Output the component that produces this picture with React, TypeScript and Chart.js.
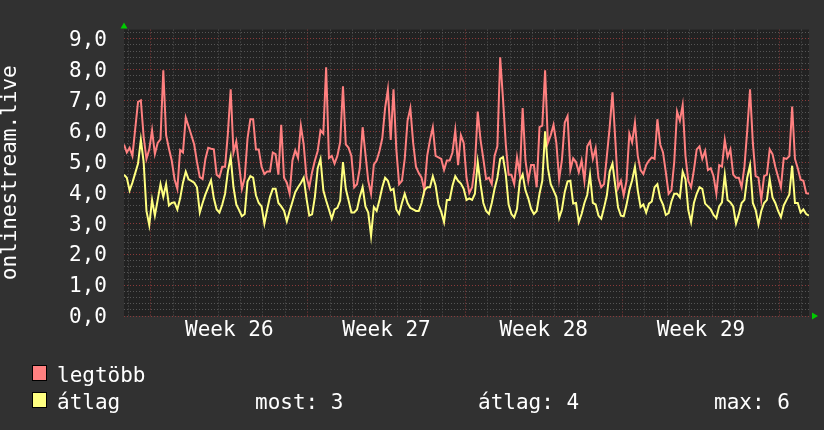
import React, { useEffect, useRef } from 'react';
import { Chart, registerables } from 'chart.js';

Chart.register(...registerables);

// ---- data (3-hour samples, starting at the left edge of the graph) ----
const stepHours = 3;
const axisMaxHours = 732;
const firstDayLineHour = 4.5;
const firstWeekStartHour = 28.5;

const weekLabels = ['Week 26', 'Week 27', 'Week 28', 'Week 29'];
const yTickLabels = ['0,0', '1,0', '2,0', '3,0', '4,0', '5,0', '6,0', '7,0', '8,0', '9,0'];
const seriesNames = ['legtöbb', 'átlag'];
const statLabels = ['most: 3', 'átlag: 4', 'max: 6'];

const maxValues = [
  5.57, 5.31, 5.46, 5.2, 6.08, 6.95, 7.0, 5.82, 5.1, 5.41,
  6.03, 5.26, 5.62, 5.74, 7.98, 5.87, 5.44, 5.05, 4.44, 4.13,
  5.39, 5.31, 6.44, 6.16, 5.87, 5.57, 5.0, 4.51, 4.45, 5.1,
  5.46, 5.43, 5.41, 4.59, 4.51, 4.85, 4.85, 5.92, 7.36, 5.31,
  5.67, 4.9, 4.13, 4.49, 5.77, 6.39, 6.39, 5.41, 5.41, 4.85,
  4.61, 4.69, 4.69, 5.31, 5.26, 4.59, 6.21, 4.49, 4.33, 3.97,
  5.05, 5.38, 5.13, 6.18, 5.57, 4.51, 4.18, 4.67, 5.05, 5.36,
  6.03, 5.92, 8.08, 5.13, 5.2, 4.95, 5.2, 5.64, 7.46, 5.57,
  5.46, 5.2, 4.18, 4.28, 4.8, 6.13, 5.26, 4.39, 3.97, 4.92,
  5.05, 5.36, 5.77, 6.75, 7.36, 5.72, 7.36, 5.41, 4.28, 4.39,
  5.1, 6.34, 6.75, 5.62, 4.85, 4.64, 4.49, 4.08, 5.2, 5.72,
  6.13, 5.2, 5.15, 5.1, 4.74, 5.05, 5.05, 5.31, 6.03, 4.9,
  5.87, 5.62, 4.49, 3.99, 4.18, 4.9, 6.64, 5.72, 5.1, 4.44,
  4.49, 4.28, 5.2, 5.51, 8.4, 7.05, 5.57, 4.59, 4.59, 4.28,
  5.15, 4.59, 6.75, 5.05, 4.39, 4.9, 4.9, 4.18, 6.13, 6.18,
  7.98, 5.62, 5.87, 6.21, 5.62, 4.44, 5.08, 6.28, 6.49, 4.74,
  5.12, 5.0, 4.67, 5.05, 4.39, 5.51, 5.67, 5.1, 5.45, 4.49,
  4.18, 4.28, 5.2, 6.13, 7.26, 5.72, 4.16, 4.39, 3.92, 4.39,
  5.92, 5.64, 6.28, 5.2, 4.74, 4.61, 4.9, 5.05, 5.15, 5.1,
  6.39, 5.57, 5.31, 4.67, 3.97, 4.08, 5.0, 6.64, 6.34, 6.85,
  5.2, 4.39, 4.18, 4.74, 5.41, 5.51, 5.1, 5.36, 4.74, 4.8,
  4.54, 3.97, 4.9, 4.85, 5.72, 5.16, 5.41, 4.59, 4.49, 4.49,
  4.18, 4.85, 6.03, 7.36, 5.62, 4.54, 4.49, 3.77, 4.54, 4.59,
  5.41, 5.26, 4.85, 4.51, 4.18, 5.13, 5.1, 5.19, 6.8, 5.1,
  4.8, 4.43, 4.39, 3.99, 3.97,
];

const avgValues = [
  4.59, 4.49, 4.08, 4.33, 4.64, 4.95, 5.72, 5.0, 3.41, 2.95,
  3.77, 3.26, 3.77, 4.28, 3.87, 4.28, 3.59, 3.67, 3.69, 3.46,
  3.82, 4.33, 4.69, 4.44, 4.39, 4.33, 4.18, 3.36, 3.67, 3.95,
  4.18, 4.41, 3.82, 3.46, 3.36, 3.62, 3.97, 4.69, 5.16, 4.18,
  3.62, 3.44, 3.24, 3.31, 4.37, 4.54, 4.49, 3.92, 3.67, 3.56,
  3.0, 3.46, 3.87, 4.13, 4.13, 3.67, 3.56, 3.42, 3.07, 3.41,
  3.71, 4.02, 4.18, 4.32, 4.49, 3.82, 3.26, 3.3, 3.87, 4.8,
  5.1, 4.08, 3.75, 3.46, 3.16, 3.46, 3.51, 3.75, 5.0, 4.13,
  3.75, 3.36, 3.36, 3.46, 3.87, 4.18, 3.56, 3.36, 2.6, 3.54,
  3.41, 3.77, 4.18, 4.49, 4.39, 4.08, 4.13, 3.46, 3.31, 3.67,
  3.97, 3.67, 3.51, 3.46, 3.41, 3.41, 3.67, 4.08, 4.18, 4.18,
  4.54, 4.23, 3.62, 3.38, 3.05, 3.77, 3.77, 4.23, 4.54, 4.39,
  4.3, 4.13, 3.77, 3.82, 3.77, 3.97, 5.0, 4.28, 3.67, 3.41,
  3.31, 3.67, 4.13, 4.49, 5.1, 5.16, 4.59, 3.62, 3.31, 3.2,
  3.48, 4.39, 4.6, 4.08, 3.82, 3.48, 3.31, 3.41, 3.97, 4.39,
  6.0, 4.8, 4.28, 4.08, 3.87, 3.18, 3.46, 4.03, 4.37, 4.39,
  3.65, 3.67, 3.05, 3.31, 3.67, 3.93, 4.59, 3.67, 3.62, 3.26,
  3.16, 3.52, 3.92, 4.69, 4.95, 4.23, 3.52, 3.26, 3.24, 3.61,
  4.08, 4.41, 4.85, 4.08, 3.54, 3.62, 3.36, 3.65, 3.72, 4.18,
  4.28, 3.82, 3.62, 3.28, 3.34, 3.72, 3.97, 3.97, 3.85, 4.69,
  4.44, 3.44, 3.05, 3.67, 3.97, 4.18, 4.13, 3.65, 3.56, 3.46,
  3.28, 3.18, 3.56, 3.69, 4.59, 3.77, 3.69, 3.56, 3.0, 3.3,
  3.67, 3.77, 4.49, 4.9, 3.67, 3.44, 2.97, 3.41, 3.67, 3.77,
  4.45, 3.85, 3.67, 3.41, 3.21, 3.59, 3.77, 3.95, 4.88, 3.67,
  3.67, 3.36, 3.46, 3.31, 3.26,
];

// ---- styles ----
const FONT = '"DejaVu Sans Mono", "Liberation Mono", monospace';
const OUTER_BG = '#313131';
const PLOT_BG = '#222222';
const MAX_COLOR = '#ff8080';
const AVG_COLOR = '#ffff80';
const MINOR_GRID = '#555555';
const MAJOR_GRID = '#8a3a3a';
const TEXT = '#ffffff';

const toPoints = (vals: number[]) => vals.map((v, i) => ({ x: i * stepHours, y: v }));

const dayTicks: number[] = [];
for (let h = firstDayLineHour; h <= axisMaxHours; h += 24) dayTicks.push(h);
const labelTicks = weekLabels.map((_, k) => firstWeekStartHour + 84 + 168 * k);
const labelAt = (v: number) => labelTicks.findIndex((t) => Math.abs(t - v) < 1e-6);
const isMajorDay = (v: number) => {
  const r = (((v - firstWeekStartHour) % 168) + 168) % 168;
  return r < 1e-6 || 168 - r < 1e-6;
};
const isInt = (v: number) => Math.abs(v - Math.round(v)) < 1e-6;

const backgroundPlugin = {
  id: 'rrdBackground',
  beforeDraw(chart: any) {
    const { ctx, chartArea } = chart;
    ctx.save();
    ctx.fillStyle = OUTER_BG;
    ctx.fillRect(0, 0, chart.width, chart.height);
    ctx.fillStyle = PLOT_BG;
    ctx.fillRect(chartArea.left, chartArea.top, chartArea.right - chartArea.left, chartArea.bottom - chartArea.top);
    ctx.restore();
  },
};

const decorPlugin = {
  id: 'rrdDecor',
  afterDraw(chart: any) {
    const { ctx, chartArea } = chart;
    ctx.save();
    // green axis arrows
    ctx.fillStyle = '#00cc00';
    ctx.beginPath();
    ctx.moveTo(chartArea.left - 3.5, chartArea.top - 1);
    ctx.lineTo(chartArea.left + 3.5, chartArea.top - 1);
    ctx.lineTo(chartArea.left, chartArea.top - 7);
    ctx.closePath();
    ctx.fill();
    ctx.beginPath();
    ctx.moveTo(chartArea.right + 3, chartArea.bottom - 3.5);
    ctx.lineTo(chartArea.right + 3, chartArea.bottom + 3.5);
    ctx.lineTo(chartArea.right + 9, chartArea.bottom);
    ctx.closePath();
    ctx.fill();

    // legend
    ctx.font = '21px ' + FONT;
    ctx.textBaseline = 'alphabetic';
    const colors = [MAX_COLOR, AVG_COLOR];
    const rowBase = [382, 409];
    seriesNames.forEach((name, i) => {
      ctx.fillStyle = colors[i];
      ctx.fillRect(32, rowBase[i] - 17, 15, 16);
      ctx.strokeStyle = '#000000';
      ctx.lineWidth = 1;
      ctx.strokeRect(32.5, rowBase[i] - 16.5, 14, 15);
      ctx.fillStyle = TEXT;
      ctx.fillText(name, 57, rowBase[i]);
    });
    const statX = [255, 478, 714];
    statLabels.forEach((s, i) => {
      ctx.fillStyle = TEXT;
      ctx.fillText(s, statX[i], rowBase[1]);
    });
    ctx.restore();
  },
};

export default function App() {
  const canvasRef = useRef<HTMLCanvasElement>(null);

  useEffect(() => {
    document.body.style.margin = '0';
    document.body.style.background = OUTER_BG;
    const canvas = canvasRef.current;
    if (!canvas) return;
    const chart = new Chart(canvas, {
      type: 'line',
      data: {
        datasets: [
          {
            label: seriesNames[0],
            data: toPoints(maxValues),
            borderColor: MAX_COLOR,
            borderWidth: 2,
            pointRadius: 0,
            tension: 0,
            fill: false,
            order: 1,
          },
          {
            label: seriesNames[1],
            data: toPoints(avgValues),
            borderColor: AVG_COLOR,
            borderWidth: 2,
            pointRadius: 0,
            tension: 0,
            fill: false,
            order: 0,
          },
        ],
      },
      options: {
        responsive: false,
        animation: false,
        devicePixelRatio: 1,
        layout: { padding: { top: 14, right: 15, bottom: 0, left: 0 } },
        plugins: {
          legend: { display: false },
          tooltip: { enabled: false },
        },
        scales: {
          x: {
            type: 'linear',
            min: 0,
            max: axisMaxHours,
            afterBuildTicks: (scale: any) => {
              const all = [...dayTicks, ...labelTicks].sort((a, b) => a - b);
              scale.ticks = all.map((v) => ({ value: v }));
            },
            afterFit: (scale: any) => {
              scale.height = 114;
            },
            ticks: {
              autoSkip: false,
              maxRotation: 0,
              minRotation: 0,
              padding: 2,
              color: TEXT,
              font: { family: FONT, size: 21 },
              callback: (v: any) => {
                const k = labelAt(Number(v));
                return k >= 0 ? weekLabels[k] : '';
              },
            },
            grid: {
              drawTicks: false,
              lineWidth: 1,
              color: (ctx: any) => {
                const v = ctx.tick ? ctx.tick.value : 0;
                if (labelAt(v) >= 0) return 'rgba(0,0,0,0)';
                return isMajorDay(v) ? MAJOR_GRID : MINOR_GRID;
              },
            },
            border: { display: false, dash: [1, 2] },
          },
          y: {
            type: 'linear',
            min: 0,
            max: 9.3,
            afterFit: (scale: any) => {
              scale.width = 124;
            },
            title: {
              display: true,
              text: 'onlinestream.live',
              color: TEXT,
              font: { family: FONT, size: 21, lineHeight: 1 },
              padding: 0,
            },
            ticks: {
              stepSize: 0.2,
              includeBounds: false,
              padding: 17,
              labelOffset: 1.5,
              color: TEXT,
              font: { family: FONT, size: 21 },
              autoSkip: false,
              callback: (v: any) => {
                const n = Number(v);
                return isInt(n) ? yTickLabels[Math.round(n)] ?? '' : '';
              },
            },
            grid: {
              drawTicks: false,
              lineWidth: 1,
              color: (ctx: any) => {
                const v = ctx.tick ? ctx.tick.value : 0;
                return isInt(v) ? MAJOR_GRID : MINOR_GRID;
              },
            },
            border: { display: false, dash: [1, 2] },
          },
        },
      } as any,
      plugins: [backgroundPlugin, decorPlugin],
    });
    return () => chart.destroy();
  }, []);

  return (
    <div style={{ position: 'fixed', left: 0, top: 0, width: 824, height: 430, background: OUTER_BG }}>
      <canvas ref={canvasRef} width={824} height={430} style={{ display: 'block', width: '824px', height: '430px' }} />
    </div>
  );
}
